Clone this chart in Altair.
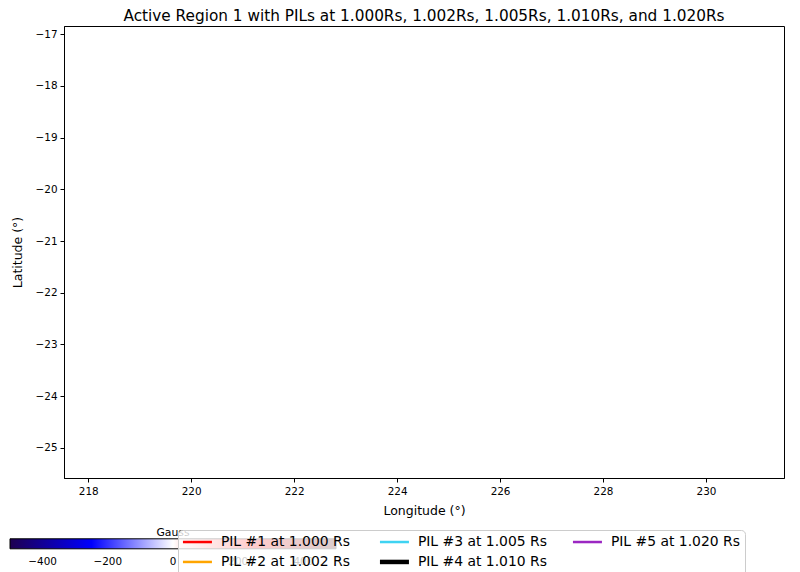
import altair as alt
import pandas as pd

# ---- data ----
pil_labels = ["PIL #1 at 1.000 Rs", "PIL #2 at 1.002 Rs", "PIL #3 at 1.005 Rs",
              "PIL #4 at 1.010 Rs", "PIL #5 at 1.020 Rs"]
pil_colors = ["#ff0000", "#ffa500", "#3fd3f2", "#000000", "#9b27c2"]
pil_widths = [2.5, 2.5, 2.5, 4.5, 2.5]

lon_domain = [217.53, 231.515]
lat_domain = [-25.58, -16.845]
lon_ticks = [218, 220, 222, 224, 226, 228, 230]
lat_ticks = [-25, -24, -23, -22, -21, -20, -19, -18, -17]

cbar_domain = [-500, -250, 0, 250, 500]
cbar_colors = ["#1e0050", "#0000ff", "#ffffff", "#ff0000", "#500000"]
cbar_ticks = [-400, -200, 0, 200, 400]

title = "Active Region 1 with PILs at 1.000Rs, 1.002Rs, 1.005Rs, 1.010Rs, and 1.020Rs"
FONT = "DejaVu Sans"

# per-entry legend line width, looked up from the lists above
width_expr = " : ".join(
    f"datum.value == '{l}' ? {w}" for l, w in zip(pil_labels, pil_widths)
) + " : 2.5"

# PIL lines: no coordinates fall inside the view in the reference
pil_df = pd.DataFrame({"pil": pil_labels, "lon": [None] * 5, "lat": [None] * 5})
cbar_df = pd.DataFrame({"b": [cbar_domain[0], cbar_domain[-1]]})

x_enc = alt.X("lon:Q", title="Longitude (°)",
              scale=alt.Scale(domain=lon_domain, nice=False, zero=False),
              axis=alt.Axis(values=lon_ticks, format="d"))
y_enc = alt.Y("lat:Q", title="Latitude (°)",
              scale=alt.Scale(domain=lat_domain, nice=False, zero=False),
              axis=alt.Axis(values=lat_ticks, format="d"))

pil_legend = alt.Legend(
    title=None, orient="none", legendX=114, legendY=504,
    columns=3, columnPadding=20, rowPadding=3,
    symbolType="M-0.875,0H2.75", symbolSize=256,
    symbolStrokeWidth={"expr": width_expr},
    labelFontSize=13.9, labelFont=FONT, labelColor="black",
    labelOffset=24, labelLimit=400,
    fillColor="rgba(255,255,255,0.8)", strokeColor="#cccccc",
    cornerRadius=4, padding=5,
)

lines = alt.Chart(pil_df).mark_line().encode(
    x=x_enc, y=y_enc,
    stroke=alt.Stroke(
        "pil:N",
        scale=alt.Scale(domain=pil_labels, range=pil_colors),
        legend=pil_legend,
    ),
)

cbar = alt.Chart(cbar_df).mark_point(filled=True, opacity=0).encode(
    fill=alt.Fill(
        "b:Q",
        scale=alt.Scale(domain=cbar_domain, range=cbar_colors, interpolate="rgb"),
        legend=alt.Legend(
            title="Gauss", orient="none", legendX=-54, legendY=501,
            direction="horizontal", gradientLength=326, gradientThickness=10,
            gradientStrokeColor="black", gradientStrokeWidth=1,
            values=cbar_ticks, labelFontSize=10.4, labelFont=FONT,
            labelColor="black", labelOffset=8,
            titleFontSize=10.8, titleFont=FONT, titleFontWeight="normal",
            titleColor="black", titleAnchor="middle", titlePadding=1,
            padding=0,
        ),
    ),
)

chart = alt.layer(cbar, lines).properties(
    width=720, height=452,
    title=alt.TitleParams(title, fontSize=15.3, font=FONT, fontWeight="normal",
                          color="black", offset=2),
    autosize=alt.AutoSizeParams(type="none"),
    padding={"left": 56, "top": 18, "right": 8, "bottom": 100},
).configure_view(
    stroke="black", strokeWidth=1
).configure_axis(
    grid=False, domainColor="black", tickColor="black", tickSize=4,
    labelFont=FONT, labelFontSize=10.4, labelColor="black", labelPadding=3,
    titleFont=FONT, titleFontSize=12.5, titleFontWeight="normal", titleColor="black",
).configure_axisX(titlePadding=8, labelPadding=4).configure_axisY(titlePadding=11)

chart.save("out.html", embed_options={"renderer": "svg", "actions": False})
